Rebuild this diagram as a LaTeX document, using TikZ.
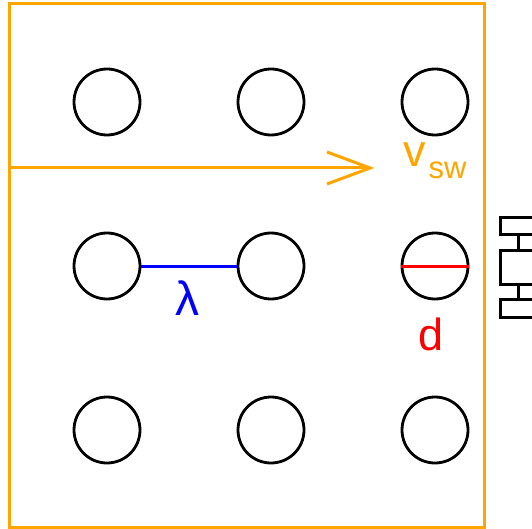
\documentclass[tikz,border=0pt]{standalone}
\usepackage{fontspec}
\setmainfont{Liberation Sans}
\begin{document}
\begin{tikzpicture}[x=1pt,y=-1pt,
  dot/.style={circle,draw=black,line width=2.8pt,minimum size=66pt,inner sep=0pt},
  lbl/.style={anchor=base,inner sep=0pt,font=\fontsize{45}{50}\selectfont},
  part/.style={draw=black,line width=3pt}]
\definecolor{myorange}{HTML}{FFA500}
\useasboundingbox (0,0) rectangle (532,529);
\begin{scope}
\clip (0,0) rectangle (532,529);
% frame
\draw[draw=myorange,line width=3pt] (9,4) rectangle (484,527);
% circles
\foreach \i/\x in {1/107,2/271,3/435}{
  \foreach \j/\y in {1/102,2/266,3/430}{
    \node[dot] (c\j\i) at (\x,\y) {};
  }
}
% velocity arrow
\coordinate (aL) at (9,168);
\coordinate (aT) at (370,168);
\coordinate (aU) at (327,152);
\coordinate (aD) at (327,184);
\draw[draw=myorange,line width=3pt] (aL) -- (aT);
\draw[draw=myorange,line width=3pt,line join=miter] (aU) -- (aT) -- (aD);
\node[lbl,anchor=base west,text=myorange] (vsw) at (403,167) {v\kern3pt\raisebox{-12pt}{\fontsize{31}{31}\selectfont sw}};
% lambda
\draw[draw=blue,line width=3pt] (c21.east) -- (c22.west);
\node[lbl,text=blue,font=\fontsize{48}{50}\selectfont] (lam) at (187,315) {λ};
% d
\draw[draw=red,line width=3pt] (c23.west) -- (c23.east);
\node[lbl,text=red] (dl) at (431,350) {d};
% side element
\node[part,rectangle,minimum width=50pt,minimum height=17pt,inner sep=0pt,anchor=north west] (b1) at (499,216) {};
\node[part,rectangle,minimum width=50pt,minimum height=34pt,inner sep=0pt,anchor=north west] (b2) at (499,249) {};
\node[part,rectangle,minimum width=50pt,minimum height=18pt,inner sep=0pt,anchor=north west] (b3) at (499,298) {};
\coordinate (k1) at (518,0);
\draw[part] (b1.south -| k1) -- (b2.north -| k1);
\draw[part] (b2.south -| k1) -- (b3.north -| k1);
\end{scope}
\end{tikzpicture}
\end{document}
